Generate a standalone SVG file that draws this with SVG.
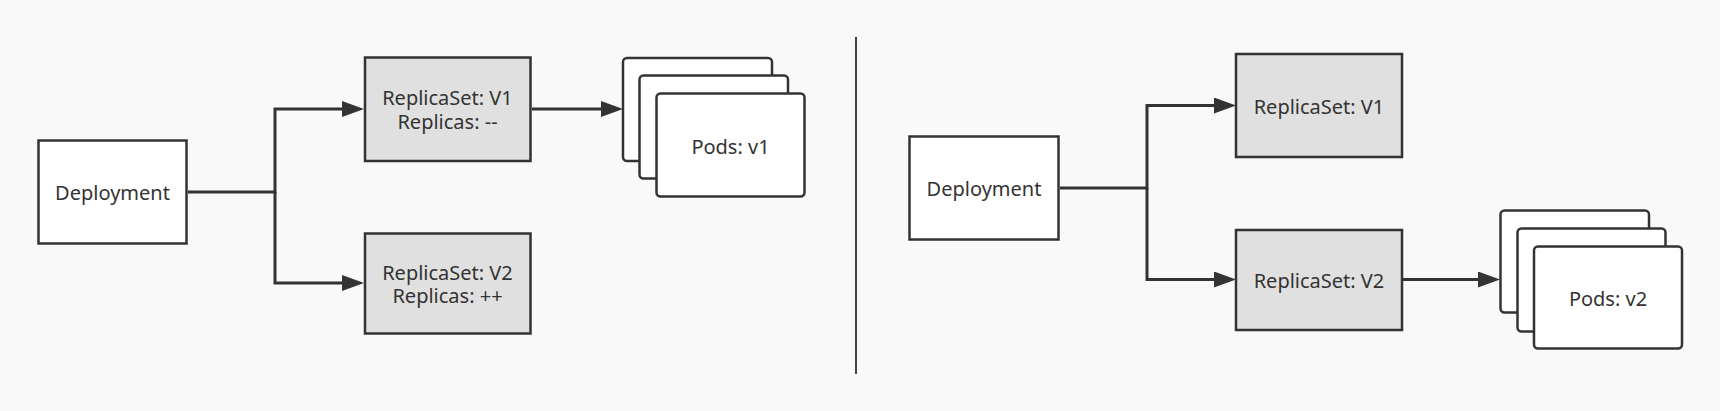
<svg xmlns="http://www.w3.org/2000/svg" width="1720" height="411" viewBox="0 0 1720 411">
  <style>
    .bg { fill: #f9f9f9; }
    .box { fill: #ffffff; stroke: #333333; stroke-width: 2.5; }
    .rs { fill: #e0e0e0; stroke: #333333; stroke-width: 2.5; }
    .pod { fill: #ffffff; stroke: #333333; stroke-width: 2.5; }
    .lbl { font-family: "Noto Sans", "Liberation Sans", sans-serif; font-size: 20px; fill: #333333; text-anchor: middle; }
    .edge { fill: none; stroke: #333333; stroke-width: 3; marker-end: url(#arr); }
    .divider { stroke: #444444; stroke-width: 2; }
  </style>
  <defs>
    <marker id="arr" markerUnits="userSpaceOnUse" markerWidth="24" markerHeight="18" refX="0" refY="8" orient="auto">
      <path d="M0,0 L22,8 L0,16 z" fill="#333333"/>
    </marker>
  </defs>
  <rect class="bg" x="0" y="0" width="1720" height="411"/>

  <g id="connectors">
    <path class="edge" d="M187.75,192 H275 V109 H342"/>
    <path class="edge" d="M275,192 V283 H342"/>
    <path class="edge" d="M532,109 H601"/>
    <path class="edge" d="M1059.75,188 H1147 V105.5 H1214"/>
    <path class="edge" d="M1147,188 V279.5 H1214"/>
    <path class="edge" d="M1403,279.5 H1478"/>
  </g>

  <line id="divider" class="divider" x1="856" y1="37" x2="856" y2="374"/>

  <g id="deployment-left">
    <rect class="box" x="38.5" y="140.5" width="148" height="103"/>
    <text class="lbl" x="112.5" y="200">Deployment</text>
  </g>
  <g id="replicaset-v1-left">
    <rect class="rs" x="365" y="57.5" width="165.5" height="103.5"/>
    <text class="lbl" x="447.5" y="105">ReplicaSet: V1</text>
    <text class="lbl" x="447.5" y="128.5">Replicas: --</text>
  </g>
  <g id="replicaset-v2-left">
    <rect class="rs" x="365" y="233.5" width="165.5" height="100"/>
    <text class="lbl" x="447.5" y="279.5">ReplicaSet: V2</text>
    <text class="lbl" x="447.5" y="303">Replicas: ++</text>
  </g>
  <g id="pods-v1">
    <rect class="pod" x="623" y="58" width="149" height="103" rx="4"/>
    <rect class="pod" x="639.5" y="75.5" width="148.5" height="103" rx="4"/>
    <rect class="pod" x="656.5" y="93.5" width="148" height="103" rx="4"/>
    <text class="lbl" x="730.5" y="154">Pods: v1</text>
  </g>

  <g id="deployment-right">
    <rect class="box" x="909.5" y="136.5" width="149" height="103"/>
    <text class="lbl" x="984" y="196">Deployment</text>
  </g>
  <g id="replicaset-v1-right">
    <rect class="rs" x="1236" y="54" width="166" height="103"/>
    <text class="lbl" x="1319" y="113.5">ReplicaSet: V1</text>
  </g>
  <g id="replicaset-v2-right">
    <rect class="rs" x="1236" y="230" width="166" height="100"/>
    <text class="lbl" x="1319" y="287.5">ReplicaSet: V2</text>
  </g>
  <g id="pods-v2">
    <rect class="pod" x="1500.5" y="210.5" width="148.5" height="102" rx="4"/>
    <rect class="pod" x="1517.5" y="228.5" width="148" height="103" rx="4"/>
    <rect class="pod" x="1534" y="246.5" width="148" height="102" rx="4"/>
    <text class="lbl" x="1608" y="305.5">Pods: v2</text>
  </g>
</svg>
